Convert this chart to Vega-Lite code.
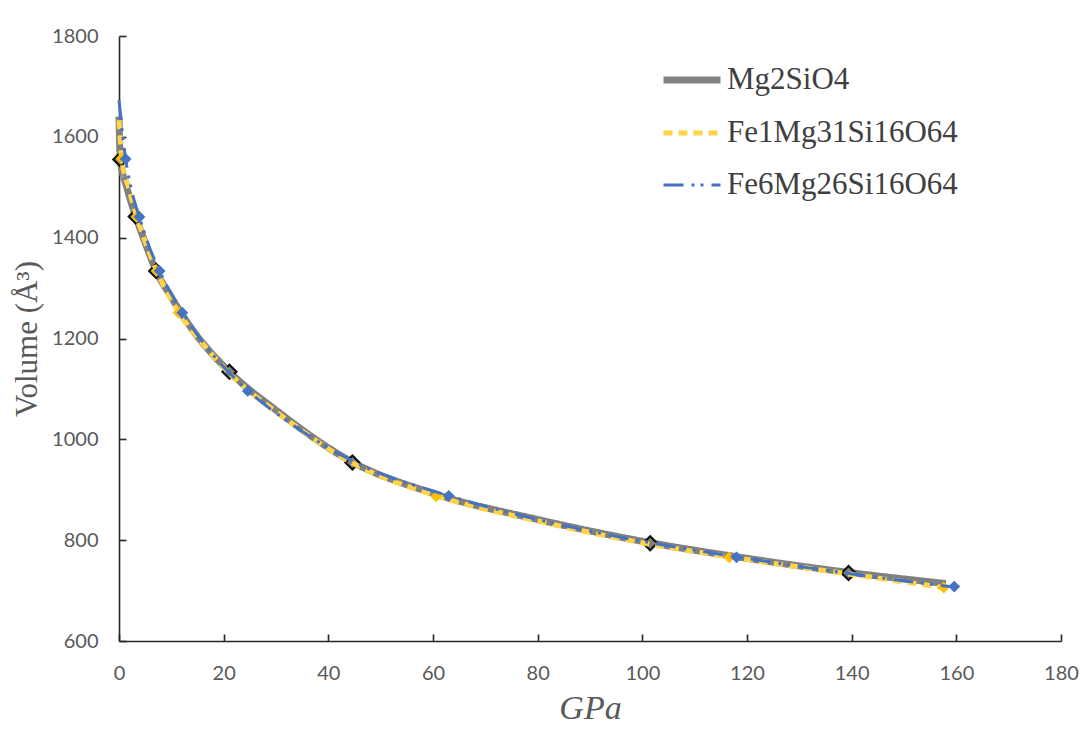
{
  "$schema": "https://vega.github.io/schema/vega-lite/v6.json",
  "width": 942,
  "height": 605,
  "autosize": {"type": "none"},
  "padding": {"left": 119, "top": 36, "right": 22, "bottom": 90},
  "background": "white",
  "config": {
    "view": {"stroke": null},
    "font": "Lato",
    "legend": {
      "orient": "none",
      "legendX": 541,
      "legendY": 12,
      "labelFont": "Liberation Serif",
      "labelFontSize": 31,
      "labelColor": "#404040",
      "labelLimit": 0,
      "symbolSize": 3249,
      "symbolType": "stroke",
      "rowPadding": 7,
      "labelOffset": 3
    }
  },
  "datasets": {
    "lines": [
      {"series": "Mg2SiO4", "P": 0, "V": 1640},
      {"series": "Mg2SiO4", "P": 0.25, "V": 1556},
      {"series": "Mg2SiO4", "P": 1.5, "V": 1500},
      {"series": "Mg2SiO4", "P": 3.2, "V": 1442},
      {"series": "Mg2SiO4", "P": 5, "V": 1390},
      {"series": "Mg2SiO4", "P": 7.1, "V": 1334},
      {"series": "Mg2SiO4", "P": 10, "V": 1282},
      {"series": "Mg2SiO4", "P": 14, "V": 1218},
      {"series": "Mg2SiO4", "P": 21.1, "V": 1134},
      {"series": "Mg2SiO4", "P": 30, "V": 1058},
      {"series": "Mg2SiO4", "P": 44.6, "V": 955},
      {"series": "Mg2SiO4", "P": 60, "V": 893},
      {"series": "Mg2SiO4", "P": 80, "V": 841},
      {"series": "Mg2SiO4", "P": 101.5, "V": 795},
      {"series": "Mg2SiO4", "P": 120, "V": 764},
      {"series": "Mg2SiO4", "P": 139.4, "V": 736},
      {"series": "Mg2SiO4", "P": 158, "V": 714},
      {"series": "Fe1Mg31Si16O64", "P": 0, "V": 1633},
      {"series": "Fe1Mg31Si16O64", "P": 0.5, "V": 1557},
      {"series": "Fe1Mg31Si16O64", "P": 1.8, "V": 1500},
      {"series": "Fe1Mg31Si16O64", "P": 3.4, "V": 1441},
      {"series": "Fe1Mg31Si16O64", "P": 5, "V": 1392},
      {"series": "Fe1Mg31Si16O64", "P": 7.2, "V": 1334},
      {"series": "Fe1Mg31Si16O64", "P": 11.4, "V": 1252},
      {"series": "Fe1Mg31Si16O64", "P": 16, "V": 1190},
      {"series": "Fe1Mg31Si16O64", "P": 23, "V": 1112},
      {"series": "Fe1Mg31Si16O64", "P": 30, "V": 1055},
      {"series": "Fe1Mg31Si16O64", "P": 44.6, "V": 953},
      {"series": "Fe1Mg31Si16O64", "P": 60.6, "V": 888},
      {"series": "Fe1Mg31Si16O64", "P": 80, "V": 838},
      {"series": "Fe1Mg31Si16O64", "P": 101.5, "V": 792},
      {"series": "Fe1Mg31Si16O64", "P": 116.6, "V": 767},
      {"series": "Fe1Mg31Si16O64", "P": 139.4, "V": 733},
      {"series": "Fe1Mg31Si16O64", "P": 157.6, "V": 706},
      {"series": "Fe6Mg26Si16O64", "P": 0, "V": 1673},
      {"series": "Fe6Mg26Si16O64", "P": 1.27, "V": 1556},
      {"series": "Fe6Mg26Si16O64", "P": 2.5, "V": 1490},
      {"series": "Fe6Mg26Si16O64", "P": 3.9, "V": 1441},
      {"series": "Fe6Mg26Si16O64", "P": 5.5, "V": 1390},
      {"series": "Fe6Mg26Si16O64", "P": 7.75, "V": 1334},
      {"series": "Fe6Mg26Si16O64", "P": 12.1, "V": 1252},
      {"series": "Fe6Mg26Si16O64", "P": 17, "V": 1180},
      {"series": "Fe6Mg26Si16O64", "P": 24.6, "V": 1097},
      {"series": "Fe6Mg26Si16O64", "P": 33, "V": 1030},
      {"series": "Fe6Mg26Si16O64", "P": 44.6, "V": 957},
      {"series": "Fe6Mg26Si16O64", "P": 63, "V": 888},
      {"series": "Fe6Mg26Si16O64", "P": 80, "V": 841},
      {"series": "Fe6Mg26Si16O64", "P": 101.5, "V": 795},
      {"series": "Fe6Mg26Si16O64", "P": 118, "V": 767},
      {"series": "Fe6Mg26Si16O64", "P": 139.4, "V": 734},
      {"series": "Fe6Mg26Si16O64", "P": 159.6, "V": 707}
    ],
    "pts": [
      {"series": "Mg2SiO4", "P": 0.25, "V": 1555},
      {"series": "Mg2SiO4", "P": 3.2, "V": 1442},
      {"series": "Mg2SiO4", "P": 7.1, "V": 1334},
      {"series": "Mg2SiO4", "P": 21.1, "V": 1134},
      {"series": "Mg2SiO4", "P": 44.6, "V": 954},
      {"series": "Mg2SiO4", "P": 101.5, "V": 794},
      {"series": "Mg2SiO4", "P": 139.4, "V": 735},
      {"series": "Fe1Mg31Si16O64", "P": 0.5, "V": 1557},
      {"series": "Fe1Mg31Si16O64", "P": 3.4, "V": 1441},
      {"series": "Fe1Mg31Si16O64", "P": 7.2, "V": 1334},
      {"series": "Fe1Mg31Si16O64", "P": 11.4, "V": 1251},
      {"series": "Fe1Mg31Si16O64", "P": 60.6, "V": 887},
      {"series": "Fe1Mg31Si16O64", "P": 116.6, "V": 766},
      {"series": "Fe1Mg31Si16O64", "P": 157.6, "V": 706},
      {"series": "Fe6Mg26Si16O64", "P": 1.27, "V": 1556},
      {"series": "Fe6Mg26Si16O64", "P": 3.9, "V": 1441},
      {"series": "Fe6Mg26Si16O64", "P": 7.75, "V": 1334},
      {"series": "Fe6Mg26Si16O64", "P": 12.1, "V": 1251},
      {"series": "Fe6Mg26Si16O64", "P": 24.6, "V": 1096},
      {"series": "Fe6Mg26Si16O64", "P": 63, "V": 888},
      {"series": "Fe6Mg26Si16O64", "P": 118, "V": 766},
      {"series": "Fe6Mg26Si16O64", "P": 159.6, "V": 708}
    ]
  },
  "encoding": {
    "x": {
      "field": "P", "type": "quantitative",
      "scale": {"domain": [0, 180], "nice": false, "zero": false},
      "axis": {
        "values": [0, 20, 40, 60, 80, 100, 120, 140, 160, 180],
        "format": "d",
        "labelFlush": false,
        "grid": false,
        "domainColor": "#262626", "domainWidth": 1.6,
        "tickColor": "#262626", "tickWidth": 1.6, "tickSize": -7,
        "labelPadding": 29, "labelFont": "Lato", "labelFontSize": 20, "labelColor": "#595959",
        "title": "GPa", "titleFont": "Liberation Serif", "titleFontStyle": "italic",
        "titleFontWeight": "normal", "titleFontSize": 34, "titleColor": "#595959", "titlePadding": 8
      }
    },
    "y": {
      "field": "V", "type": "quantitative",
      "scale": {"domain": [600, 1800], "nice": false, "zero": false},
      "axis": {
        "values": [600, 800, 1000, 1200, 1400, 1600, 1800],
        "format": "d",
        "labelFlush": false,
        "grid": false,
        "domainColor": "#262626", "domainWidth": 1.6,
        "tickColor": "#262626", "tickWidth": 1.6, "tickSize": -7,
        "labelPadding": 28, "labelFont": "Lato", "labelFontSize": 20, "labelColor": "#595959",
        "title": "Volume (Å³)", "titleFont": "Liberation Serif", "titleFontWeight": "normal",
        "titleFontSize": 31, "titleColor": "#595959", "titlePadding": 8
      }
    }
  },
  "layer": [
    {
      "data": {"name": "lines"},
      "transform": [{"filter": "datum.series === 'Mg2SiO4'"}],
      "mark": {"type": "line", "interpolate": "monotone"},
      "encoding": {
        "color": {"field": "series", "type": "nominal", "title": null,
          "scale": {"domain": ["Mg2SiO4", "Fe1Mg31Si16O64", "Fe6Mg26Si16O64"], "range": ["#808080", "#FFD447", "#4472C4"]}},
        "strokeDash": {"field": "series", "type": "nominal", "title": null,
          "scale": {"domain": ["Mg2SiO4", "Fe1Mg31Si16O64", "Fe6Mg26Si16O64"], "range": [[1, 0], [9, 6], [20, 8, 3, 6, 3, 8]]}},
        "strokeWidth": {"field": "series", "type": "nominal", "title": null,
          "scale": {"domain": ["Mg2SiO4", "Fe1Mg31Si16O64", "Fe6Mg26Si16O64"], "range": [7, 3, 3]}}
      }
    },
    {
      "data": {"name": "pts"},
      "transform": [{"filter": "datum.series === 'Mg2SiO4'"}],
      "mark": {"type": "point", "shape": "diamond", "filled": true, "size": 196, "fill": "#808080", "stroke": "#111111", "strokeWidth": 2.2, "opacity": 1}
    },
    {
      "data": {"name": "lines"},
      "transform": [{"filter": "datum.series === 'Fe1Mg31Si16O64'"}],
      "mark": {"type": "line", "interpolate": "monotone"},
      "encoding": {
        "color": {"field": "series", "type": "nominal", "title": null},
        "strokeDash": {"field": "series", "type": "nominal", "title": null},
        "strokeWidth": {"field": "series", "type": "nominal", "title": null}
      }
    },
    {
      "data": {"name": "pts"},
      "transform": [{"filter": "datum.series === 'Fe1Mg31Si16O64'"}],
      "mark": {"type": "point", "shape": "diamond", "filled": true, "size": 140, "fill": "#FFC000", "strokeWidth": 0, "opacity": 1}
    },
    {
      "data": {"name": "lines"},
      "transform": [{"filter": "datum.series === 'Fe6Mg26Si16O64'"}],
      "mark": {"type": "line", "interpolate": "monotone"},
      "encoding": {
        "color": {"field": "series", "type": "nominal", "title": null},
        "strokeDash": {"field": "series", "type": "nominal", "title": null},
        "strokeWidth": {"field": "series", "type": "nominal", "title": null}
      }
    },
    {
      "data": {"name": "pts"},
      "transform": [{"filter": "datum.series === 'Fe6Mg26Si16O64'"}],
      "mark": {"type": "point", "shape": "diamond", "filled": true, "size": 140, "fill": "#4472C4", "strokeWidth": 0, "opacity": 1}
    }
  ]
}
